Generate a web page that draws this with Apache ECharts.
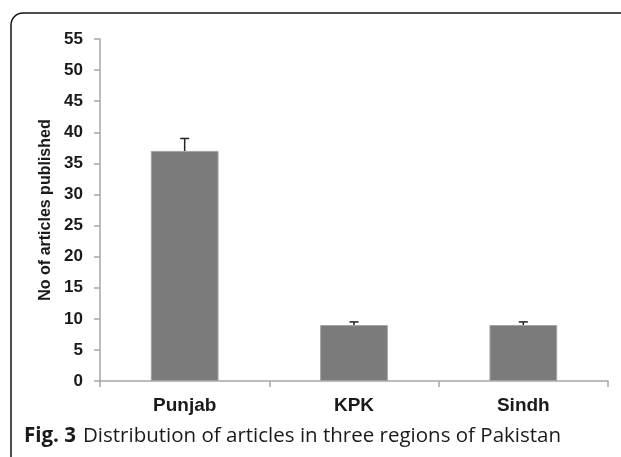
<!DOCTYPE html>
<html>
<head>
<meta charset="utf-8">
<script src="https://cdn.jsdelivr.net/npm/echarts@6/dist/echarts.min.js"></script>
<style>
  html, body { margin: 0; padding: 0; background: #fff; }
  #chart { width: 621px; height: 457px; }
</style>
</head>
<body>
<div id="chart"></div>
<script>
// Regions and article counts
const regions = ['Punjab', 'KPK', 'Sindh'];
const articleCounts = [37, 9, 9];
// Upper end of each error bar
const errorUpper = [39, 9.5, 9.5];
// Value axis range
const yMin = 0;
const yMax = 55;
const yStep = 5;

const chart = echarts.init(document.getElementById('chart'), null, { renderer: 'canvas' });

const axisGray = '#a6a6a6';
const labelFont = 'Liberation Sans, Arial, sans-serif';

const option = {
  animation: false,
  backgroundColor: '#ffffff',
  grid: { left: 100, right: 13, top: 39, bottom: 76, containLabel: false },
  xAxis: {
    type: 'category',
    data: regions,
    axisLine: { show: true, lineStyle: { color: axisGray, width: 1.5 } },
    axisTick: { show: true, length: 6, alignWithLabel: false, lineStyle: { color: axisGray, width: 1.5 } },
    axisLabel: {
      margin: 15,
      fontFamily: labelFont,
      fontWeight: 'bold',
      fontSize: 19,
      color: '#1a1a1a'
    },
    splitLine: { show: false }
  },
  yAxis: {
    type: 'value',
    min: yMin,
    max: yMax,
    interval: yStep,
    name: 'No of articles published',
    nameLocation: 'middle',
    nameGap: 46,
    nameRotate: 90,
    nameTextStyle: {
      fontFamily: labelFont,
      fontWeight: 'bold',
      fontSize: 16,
      color: '#1a1a1a'
    },
    axisLine: { show: true, lineStyle: { color: axisGray, width: 1.5 } },
    axisTick: { show: true, length: 6, lineStyle: { color: axisGray, width: 1.5 } },
    axisLabel: {
      margin: 17,
      fontFamily: labelFont,
      fontWeight: 'bold',
      fontSize: 17,
      color: '#1a1a1a'
    },
    splitLine: { show: false }
  },
  series: [
    {
      type: 'bar',
      data: articleCounts,
      barWidth: '40%',
      itemStyle: { color: '#7b7b7b', borderColor: '#a3a3a3', borderWidth: 1 }
    },
    {
      type: 'custom',
      data: regions.map((r, i) => [i, articleCounts[i], errorUpper[i]]),
      z: 5,
      renderItem: function (params, api) {
        const base = api.coord([api.value(0), api.value(1)]);
        const top = api.coord([api.value(0), api.value(2)]);
        const half = 4.5;
        return {
          type: 'group',
          children: [
            {
              type: 'line',
              shape: { x1: base[0], y1: base[1], x2: top[0], y2: top[1] },
              style: { stroke: '#222', lineWidth: 1.5 }
            },
            {
              type: 'line',
              shape: { x1: top[0] - half, y1: top[1], x2: top[0] + half, y2: top[1] },
              style: { stroke: '#222', lineWidth: 1.5 }
            }
          ]
        };
      }
    }
  ],
  graphic: [
    {
      type: 'rect',
      shape: { x: 11, y: 13, width: 700, height: 520, r: 12 },
      style: { fill: 'none', stroke: '#111', lineWidth: 1.5 },
      silent: true
    },
    {
      type: 'text',
      left: 24,
      top: 426,
      style: {
        text: '{b|Fig. 3}{n|Distribution of articles in three regions of Pakistan}',
        rich: {
          b: { fontFamily: 'Open Sans, Noto Sans, sans-serif', fontWeight: 'bold', fontSize: 20.5, fill: '#1a1a1a', padding: [0, 7, 0, 0] },
          n: { fontFamily: 'Open Sans, Noto Sans, sans-serif', fontSize: 20.5, fill: '#1a1a1a' }
        }
      }
    }
  ]
};

chart.setOption(option);
</script>
</body>
</html>
